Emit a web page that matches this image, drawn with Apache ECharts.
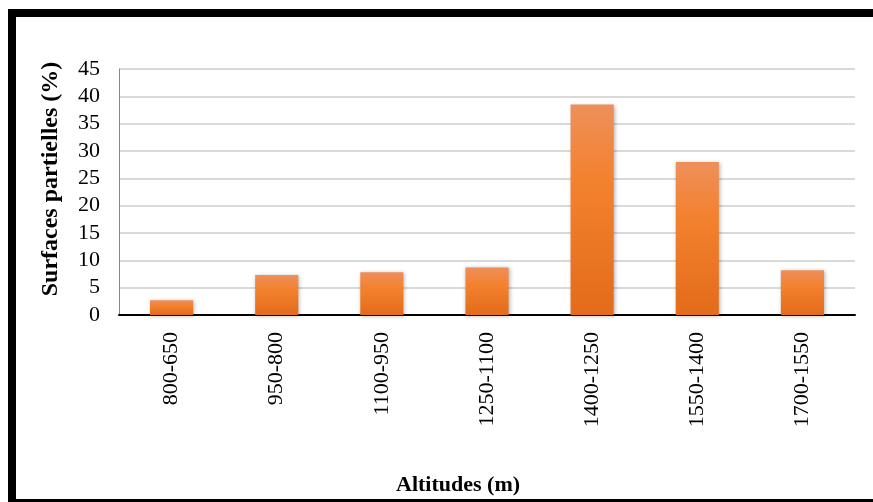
<!DOCTYPE html>
<html>
<head>
<meta charset="utf-8">
<script src="https://cdn.jsdelivr.net/npm/echarts@6/dist/echarts.min.js"></script>
<style>
  html, body { margin: 0; padding: 0; background: #fff; }
  #chart { width: 873px; height: 502px; }
</style>
</head>
<body>
<div id="chart"></div>
<script>
var categories = ['800-650', '950-800', '1100-950', '1250-1100', '1400-1250', '1550-1400', '1700-1550']
var surfaces = [2.7, 7.3, 7.8, 8.7, 38.5, 28.0, 8.2]
var yTicks = { min: 0, max: 45, interval: 5 }

var serif = 'Liberation Serif'

var myChart = echarts.init(document.querySelector('#chart'))
var option = {
  backgroundColor: '#fff',
  animation: false,
  // cadre noir (haut, gauche, bas)
  graphic: [
    { type: 'rect', shape: { x: 8, y: 9, width: 865, height: 8 }, style: { fill: '#000' } },
    { type: 'rect', shape: { x: 8, y: 9, width: 8, height: 493 }, style: { fill: '#000' } },
    { type: 'rect', shape: { x: 8, y: 499, width: 865, height: 3 }, style: { fill: '#000' } }
  ],
  title: {
    text: 'Altitudes (m)',
    left: 391,
    top: 469,
    textStyle: { fontFamily: serif, fontSize: 22, fontWeight: 'bold', color: '#000' }
  },
  grid: { left: 119, right: 18, top: 69, bottom: 187 },
  xAxis: {
    type: 'category',
    data: categories,
    axisLine: { lineStyle: { color: '#000', width: 2 } },
    axisTick: { show: false },
    axisLabel: {
      rotate: 90,
      margin: 17,
      fontFamily: serif,
      fontSize: 22,
      color: '#000'
    }
  },
  yAxis: {
    type: 'value',
    min: yTicks.min,
    max: yTicks.max,
    interval: yTicks.interval,
    name: 'Surfaces partielles (%)',
    nameLocation: 'middle',
    nameGap: 56,
    nameTextStyle: {
      fontFamily: serif,
      fontSize: 24,
      fontWeight: 'bold',
      color: '#000',
      padding: [0, 0, 0, 26] // décale le titre vers le haut
    },
    axisLine: { show: true, lineStyle: { color: '#888', width: 1 } },
    axisTick: { show: false },
    axisLabel: { margin: 19, fontFamily: serif, fontSize: 22, color: '#000' },
    splitLine: { lineStyle: { color: '#d9d9d9', width: 2 } }
  },
  series: [
    {
      type: 'bar',
      data: surfaces,
      barWidth: '41%',
      itemStyle: {
        color: new echarts.graphic.LinearGradient(0, 0, 0, 1, [
          { offset: 0, color: '#EE8F5A' },
          { offset: 0.35, color: '#F3822F' },
          { offset: 1, color: '#E36B1A' }
        ]),
        shadowBlur: 4,
        shadowColor: 'rgba(0,0,0,0.3)',
        shadowOffsetX: 1,
        shadowOffsetY: 1
      }
    }
  ]
}
myChart.setOption(option)
</script>
</body>
</html>
